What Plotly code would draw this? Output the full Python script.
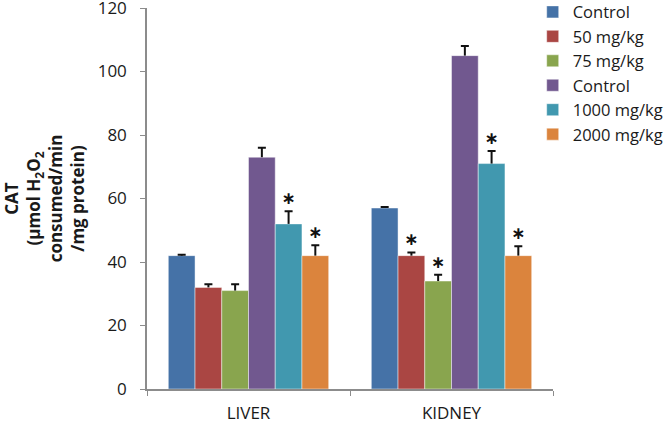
import plotly.graph_objects as go

categories = ["LIVER", "KIDNEY"]
series_names = ["Control", "50 mg/kg", "75 mg/kg", "Control", "1000 mg/kg", "2000 mg/kg"]
values = [
    [42, 57],
    [32, 42],
    [31, 34],
    [73, 105],
    [52, 71],
    [42, 42],
]
errors = [
    [0.3, 0.3],
    [1, 1],
    [2, 2],
    [3, 3],
    [4, 4],
    [3.3, 3],
]
stars = [
    ["", ""],
    ["", "∗"],
    ["", "∗"],
    ["", ""],
    ["∗", "∗"],
    ["∗", "∗"],
]
colors = ["#4572A7", "#AA4643", "#89A54E", "#71588F", "#4198AF", "#DB843D"]

FONT = "Open Sans"
fig = go.Figure()
for i, name in enumerate(series_names):
    g = f"g{i}"
    fig.add_trace(go.Bar(
        x=categories, y=values[i], name=name,
        marker=dict(color=colors[i], line=dict(color="rgba(255,255,255,0.45)", width=1)),
        offsetgroup=g, alignmentgroup="a",
        error_y=dict(type="data", symmetric=False, array=errors[i],
                     arrayminus=[0] * len(categories), width=0, thickness=2, color="#111111"),
    ))
for i, name in enumerate(series_names):
    g = f"g{i}"
    tops = [v + e for v, e in zip(values[i], errors[i])]
    fig.add_trace(go.Bar(
        x=categories, y=tops, showlegend=False, hoverinfo="skip",
        marker=dict(color="rgba(0,0,0,0)", line=dict(width=0)),
        offsetgroup=g, alignmentgroup="a",
        text=stars[i], textposition="outside", cliponaxis=False,
        textfont=dict(family="DejaVu Sans", size=17, color="#111111", weight="bold"),
        error_y=dict(type="data", array=[0] * len(categories), width=4, thickness=2, color="#111111"),
    ))

fig.update_layout(
    width=666, height=421,
    barmode="group", bargap=0.21, bargroupgap=0,
    plot_bgcolor="white", paper_bgcolor="white",
    margin=dict(l=147, r=113, t=8, b=32, autoexpand=False),
    font=dict(family=FONT, color="#1a1a1a"),
    legend=dict(x=0.95, y=1.035, xanchor="left", yanchor="top",
                font=dict(family=FONT, size=16.5, color="#1a1a1a"),
                tracegroupgap=0, bgcolor="rgba(0,0,0,0)"),
    showlegend=True,
)
fig.update_xaxes(
    automargin=False,
    showline=True, linecolor="#8c8c8c", linewidth=1.5,
    ticks="outside", tickson="boundaries", ticklen=5, tickcolor="#8c8c8c",
    tickfont=dict(family=FONT, size=17, color="#1a1a1a"),
    ticklabelstandoff=8, ticklabeloverflow="allow",
    showgrid=False,
)
fig.update_yaxes(
    automargin=False,
    range=[0, 120], dtick=20, showgrid=False, zeroline=False,
    showline=True, linecolor="#8c8c8c", linewidth=1.5,
    ticks="outside", ticklen=5, tickcolor="#8c8c8c",
    tickfont=dict(family=FONT, size=17, color="#1a1a1a"),
    ticklabelstandoff=10, ticklabeloverflow="allow",
    title=dict(
        text="<b>CAT<br>(µmol H<sub>2</sub>O<sub>2</sub><br>consumed/min<br>/mg protein)</b>",
        font=dict(family=FONT, size=17, color="#1a1a1a"), standoff=9,
    ),
)

fig.write_html("out.html", config={"displayModeBar": False},
               post_script="document.body.style.margin='0';document.body.style.overflow='hidden';")
